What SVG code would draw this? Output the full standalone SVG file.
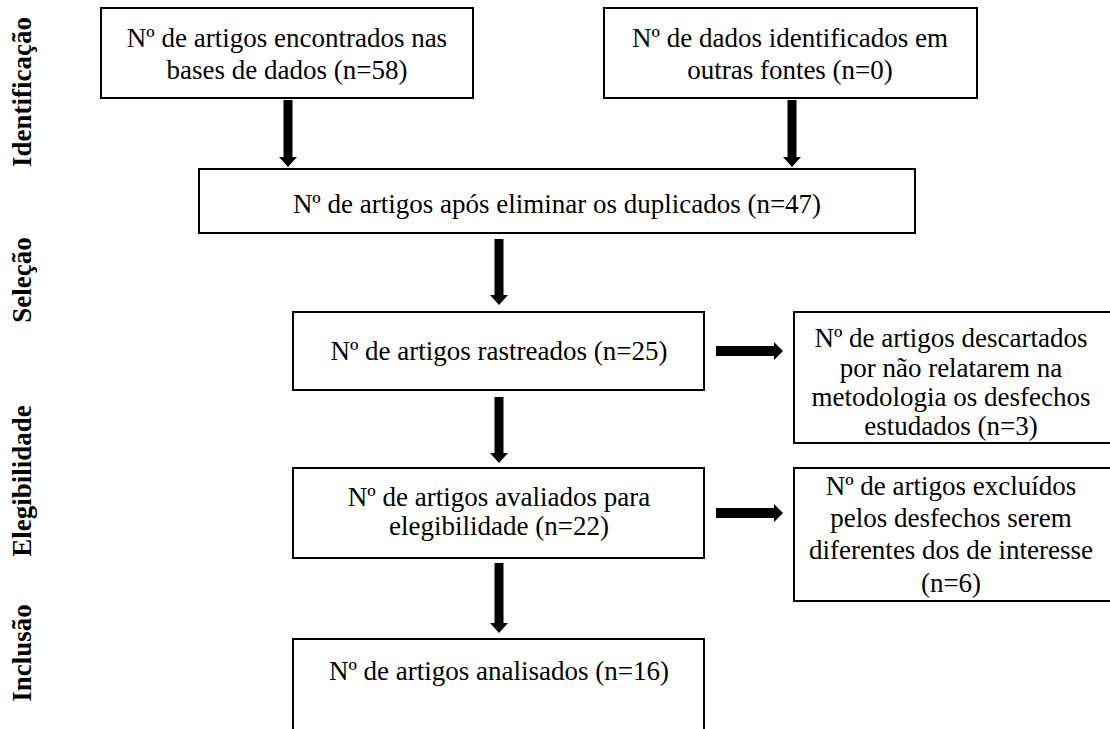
<svg xmlns="http://www.w3.org/2000/svg" width="1110" height="729" viewBox="0 0 1110 729">
<style>
.box{fill:#fff;stroke:#000;stroke-width:2}
.t{font-family:"Liberation Serif","Times New Roman",serif;font-size:27px;fill:#000;text-anchor:middle}
.lbl{font-family:"Liberation Serif","Times New Roman",serif;font-size:27px;font-weight:bold;fill:#000;text-anchor:middle}
.arr{fill:#000}
</style>
<rect width="1110" height="729" fill="#fff"/>
<g id="labels">
<text class="lbl" transform="translate(31,92) rotate(-90)">Identificação</text>
<text class="lbl" transform="translate(31,280) rotate(-90)">Seleção</text>
<text class="lbl" transform="translate(31,481) rotate(-90)">Elegibilidade</text>
<text class="lbl" transform="translate(31,653) rotate(-90)">Inclusão</text>
</g>
<g id="connectors">
<polygon class="arr" points="283.5,100 292.5,100 292.5,157 297,157 288,167 279,157 283.5,157"/>
<polygon class="arr" points="787.5,100 796.5,100 796.5,157 801,157 792,167 783,157 787.5,157"/>
<polygon class="arr" points="494.5,239 503.5,239 503.5,295 508,295 499,305 490,295 494.5,295"/>
<polygon class="arr" points="494.5,397 503.5,397 503.5,453 508,453 499,463 490,453 494.5,453"/>
<polygon class="arr" points="494.5,563 503.5,563 503.5,623 508,623 499,633 490,623 494.5,623"/>
<polygon class="arr" points="716,346 774,346 774,342 783,351 774,360 774,356 716,356"/>
<polygon class="arr" points="716,508 774,508 774,504 783,513 774,522 774,518 716,518"/>
</g>
<g id="n1">
<rect class="box" x="101" y="8" width="372" height="90"/>
<text class="t" x="287" y="47">Nº de artigos encontrados nas</text>
<text class="t" x="287" y="79">bases de dados (n=58)</text>
</g>
<g id="n2">
<rect class="box" x="604" y="8" width="373" height="90"/>
<text class="t" x="790" y="47">Nº de dados identificados em</text>
<text class="t" x="790" y="79">outras fontes (n=0)</text>
</g>
<g id="n3">
<rect class="box" x="199" y="169" width="716" height="64"/>
<text class="t" x="557" y="213">Nº de artigos após eliminar os duplicados (n=47)</text>
</g>
<g id="n4">
<rect class="box" x="293" y="312" width="411" height="78"/>
<text class="t" x="499" y="360">Nº de artigos rastreados (n=25)</text>
</g>
<g id="n5">
<rect class="box" x="794" y="312" width="320" height="131"/>
<text class="t" x="951" y="347">Nº de artigos descartados</text>
<text class="t" x="951" y="377">por não relatarem na</text>
<text class="t" x="951" y="406">metodologia os desfechos</text>
<text class="t" x="951" y="435">estudados (n=3)</text>
</g>
<g id="n6">
<rect class="box" x="293" y="468" width="411" height="90"/>
<text class="t" x="499" y="506">Nº de artigos avaliados para</text>
<text class="t" x="499" y="535">elegibilidade (n=22)</text>
</g>
<g id="n7">
<rect class="box" x="794" y="468" width="320" height="133"/>
<text class="t" x="951" y="495">Nº de artigos excluídos</text>
<text class="t" x="951" y="527">pelos desfechos serem</text>
<text class="t" x="951" y="559">diferentes dos de interesse</text>
<text class="t" x="951" y="592">(n=6)</text>
</g>
<g id="n8">
<rect class="box" x="293" y="639" width="411" height="95"/>
<text class="t" x="499" y="680">Nº de artigos analisados (n=16)</text>
</g>
</svg>
